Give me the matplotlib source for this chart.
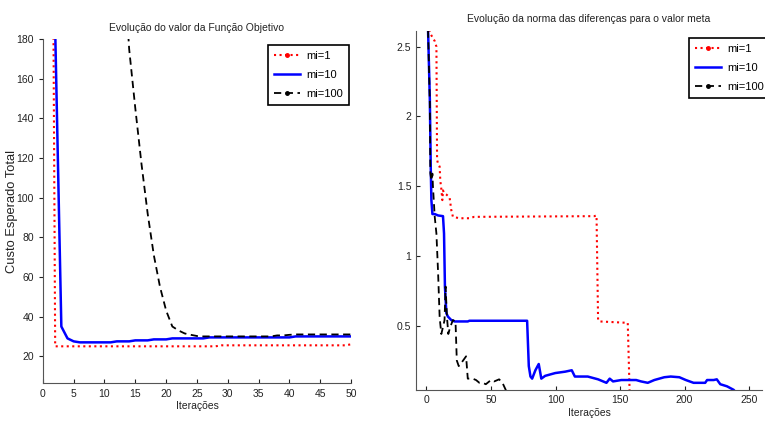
import matplotlib
matplotlib.use('Agg')
import matplotlib.pyplot as plt
from matplotlib.lines import Line2D

plt.rcParams['font.family'] = ['Liberation Sans', 'DejaVu Sans']

# painel esquerdo: funcao objetivo (iteracoes 1..50)
it_obj = list(range(1, 51))
obj_mi1 = [600] + [25] * 27 + [25.5] * 21 + [26]
obj_mi10 = [900, 185, 35, 29, 27.5, 27, 27, 27, 27, 27, 27, 27.5, 27.5, 27.5,
            28, 28, 28, 28.5, 28.5, 28.5, 29, 29, 29, 29, 29, 29] + [29.5] * 14 + [30] * 10
obj_mi100 = [3300, 2650, 2100, 1700, 1350, 1080, 860, 690, 550, 440, 350, 280, 225,
             175, 145, 117, 92, 71, 55, 43, 35, 33, 31.5, 30.8, 30.2] + [30] * 12 + \
            [30.5, 30.5, 30.8, 31, 31, 31, 31, 31, 31, 31, 31, 31, 31]

# painel direito: norma das diferencas
nd_x1 = [1, 2.6, 6.4, 7.7, 8.2, 9, 10.2, 10.7, 11.5, 12.3, 12.8, 13.6, 15.4, 17.9,
         19.2, 20.5, 25.6, 33, 37, 130, 131.8, 133, 134.3, 156, 157.4, 158]
nd_y1 = [2.7, 2.6, 2.54, 2.5, 1.69, 1.66, 1.64, 1.54, 1.48, 1.4, 1.47, 1.45, 1.44, 1.42,
         1.33, 1.28, 1.27, 1.27, 1.28, 1.285, 1.29, 0.54, 0.53, 0.52, 0.04, 0.0]
nd_x10 = [1, 2.6, 3.3, 3.8, 4.6, 6.4, 9, 12.8, 13.6, 14.3, 15.4, 16.6, 19.2, 21.8, 32,
          33.3, 78, 79.3, 80.6, 81.9, 84.4, 87, 89, 92, 99.8, 107.5, 112.6, 115, 125,
          133, 139.5, 142, 144.6, 151, 162.5, 166.3, 171.5, 176.6, 184.3, 189.3, 196,
          201, 207, 216, 217.5, 222.6, 225, 227.7, 232.9, 238, 239]
nd_y10 = [2.7, 2.12, 1.64, 1.4, 1.3, 1.3, 1.29, 1.285, 1.16, 0.78, 0.59, 0.565, 0.54,
          0.53, 0.53, 0.535, 0.535, 0.21, 0.135, 0.12, 0.18, 0.225, 0.12, 0.14, 0.16,
          0.17, 0.18, 0.135, 0.135, 0.115, 0.09, 0.12, 0.10, 0.11, 0.11, 0.10, 0.09,
          0.11, 0.13, 0.135, 0.13, 0.11, 0.09, 0.09, 0.11, 0.11, 0.115, 0.08, 0.065,
          0.04, 0.03]
nd_x100 = [1, 2.6, 3, 3.8, 4.6, 5, 6.4, 7.7, 9, 10.2, 11.5, 12.8, 14, 14.8, 15.9, 16.9,
           18.4, 20.5, 22.5, 23.5, 25, 27.6, 30.7, 32, 35.8, 38.4, 41, 43.5, 46, 50,
           52.5, 56.3, 58.9, 61.4, 62]
nd_y100 = [2.7, 2.1, 1.59, 1.54, 1.59, 1.5, 1.28, 1.16, 0.88, 0.56, 0.44, 0.49, 0.54,
           0.78, 0.56, 0.44, 0.49, 0.54, 0.53, 0.25, 0.21, 0.24, 0.28, 0.12, 0.12, 0.11,
           0.09, 0.09, 0.08, 0.11, 0.10, 0.115, 0.09, 0.04, 0.0]

labels = ['mi=1', 'mi=10', 'mi=100']
txt = '#222222'

fig = plt.figure(figsize=(7.65, 4.26), dpi=100)
ax1 = fig.add_axes([0.056, 0.101, 0.403, 0.807])
ax2 = fig.add_axes([0.544, 0.085, 0.452, 0.843])

ax1.plot(it_obj, obj_mi1, color='red', ls=':', lw=1.5)
ax1.plot(it_obj, obj_mi10, color='blue', ls='-', lw=1.8)
ax1.plot(it_obj, obj_mi100, color='black', ls='--', lw=1.3, dashes=(4, 2.5))
ax1.set_xlim(0, 50)
ax1.set_ylim(6.5, 180)
ax1.set_xticks(range(0, 51, 5))
ax1.set_yticks(range(20, 181, 20))
ax1.set_title('Evolução do valor da Função Objetivo', fontsize=7.5, color=txt, pad=6)
ax1.set_xlabel('Iterações', fontsize=7.5, color=txt, labelpad=2)
ax1.set_ylabel('Custo Esperado Total', fontsize=9.3, color=txt)
ax1.yaxis.set_label_coords(-0.082, 0.5)

ax2.plot(nd_x1, nd_y1, color='red', ls=':', lw=1.5)
ax2.plot(nd_x10, nd_y10, color='blue', ls='-', lw=1.8)
ax2.plot(nd_x100, nd_y100, color='black', ls='--', lw=1.3, dashes=(4, 2.5))
ax2.set_xlim(-8, 260)
ax2.set_ylim(0.04, 2.615)
ax2.set_xticks(range(0, 251, 50))
ax2.set_yticks([0.5, 1, 1.5, 2, 2.5])
ax2.set_yticklabels(['0.5', '1', '1.5', '2', '2.5'])
ax2.set_title('Evolução da norma das diferenças para o valor meta', fontsize=7.5,
              color=txt, pad=6)
ax2.set_xlabel('Iterações', fontsize=7.5, color=txt, labelpad=2)

handles = [Line2D([], [], color='red', ls=':', lw=1.5, marker='.', markersize=5),
           Line2D([], [], color='blue', ls='-', lw=1.8),
           Line2D([], [], color='black', ls='--', lw=1.3, dashes=(4, 2.5),
                  marker='.', markersize=5)]

for ax, anchor in [(ax1, (0.994, 0.983)), (ax2, (1.024, 0.98))]:
    for s in ['top', 'right']:
        ax.spines[s].set_visible(False)
    for s in ['left', 'bottom']:
        ax.spines[s].set_color('#555555')
    ax.tick_params(labelsize=7.5, colors=txt, length=3, direction='in')
    ax.tick_params(axis='x', pad=4)
    leg = ax.legend(handles, labels, loc='upper right', bbox_to_anchor=anchor,
                    fontsize=8, fancybox=False, framealpha=1, edgecolor='black',
                    handlelength=2.3, handletextpad=0.6, borderpad=0.55,
                    labelspacing=0.8, borderaxespad=0)
    leg.get_frame().set_linewidth(1.2)

ax1.tick_params(axis='y', direction='out')

fig.savefig('out.png', dpi=100)
